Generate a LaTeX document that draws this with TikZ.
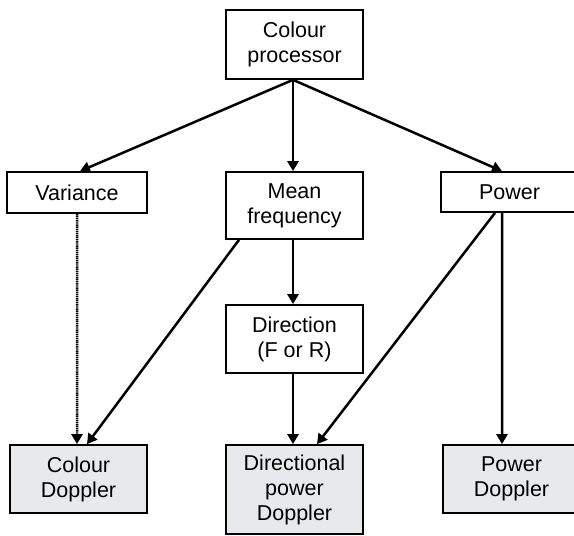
\documentclass[tikz,border=0pt]{standalone}
\usepackage{fontspec}
\setmainfont{Liberation Sans}
\usetikzlibrary{arrows.meta}
\definecolor{outfill}{RGB}{232,233,237}
\begin{document}
\begin{tikzpicture}[x=1bp,y=-1bp,
  box/.style={draw=black,line width=1.7bp,fill=white,inner sep=0pt,
    align=center,font=\fontsize{21.5bp}{25bp}\selectfont,text=black},
  outbox/.style={box,fill=outfill},
  link/.style={line width=2.5bp,-{Triangle[length=10bp,width=11bp]}},
  weaklink/.style={link,dash pattern=on 1.4bp off 0.7bp}]
\useasboundingbox (0,0) rectangle (574,536);
\clip (0,0) rectangle (574,536);
\fill[white] (0,0) rectangle (574,536);

% processing stages
\node[box,minimum width=137bp,minimum height=69bp] (cp) at (294.5,44.5) {Colour\\processor};
\node[box,minimum width=140bp,minimum height=41bp] (var) at (77,192.5) {Variance};
\node[box,minimum width=137bp,minimum height=67bp] (mf) at (294.5,205.5) {Mean\\frequency};
\node[box,minimum width=137bp,minimum height=40bp] (pw) at (509.5,192) {Power};
\node[box,minimum width=137bp,minimum height=68bp] (dir) at (294.5,339) {Direction\\(F or R)};

% display modes
\node[outbox,minimum width=137bp,minimum height=68bp] (cd) at (78.5,479) {Colour\\Doppler};
\node[outbox,minimum width=137bp,minimum height=89bp] (dpd) at (294.5,489.5) {Directional\\power\\Doppler};
\node[outbox,minimum width=137bp,minimum height=68bp] (pdp) at (511.5,479) {Power\\Doppler};

% connectors
\draw[link] ([xshift=-1.5bp]cp.south) -- ([xshift=3bp]var.north);
\draw[link] ([xshift=-1.5bp]cp.south) -- ([xshift=-1.5bp]mf.north);
\draw[link] ([xshift=-1.5bp]cp.south) -- ([xshift=-7.5bp]pw.north);
\draw[weaklink] (var.south) -- ([xshift=-1.5bp]cd.north);
\draw[link] ([xshift=-55.5bp]mf.south) -- ([xshift=8.5bp]cd.north);
\draw[link] ([xshift=-1.5bp]mf.south) -- ([xshift=-1.5bp]dir.north);
\draw[link] ([xshift=-1.5bp]dir.south) -- ([xshift=-1.5bp]dpd.north);
\draw[link] ([xshift=-14.5bp]pw.south) -- ([xshift=22.5bp]dpd.north);
\draw[link] ([xshift=-7.5bp]pw.south) -- ([xshift=-9.5bp]pdp.north);
\end{tikzpicture}
\end{document}
